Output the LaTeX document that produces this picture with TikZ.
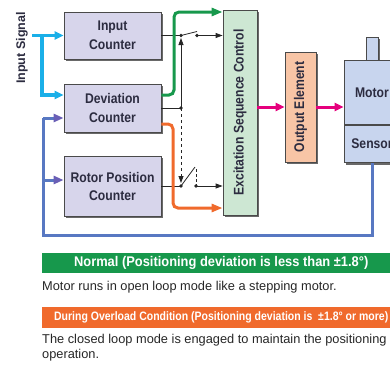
\documentclass[tikz,border=0pt]{standalone}
\usepackage{fontspec}
\usepackage{graphicx}
\setmainfont{Liberation Sans}
\newfontfamily\condfont[FakeStretch=0.87]{Liberation Sans}
\newfontfamily\greenfont[FakeStretch=0.92]{Liberation Sans}
\newfontfamily\orangefont[FakeStretch=0.86]{Liberation Sans}
\usetikzlibrary{positioning,arrows.meta,calc,shadows}
\definecolor{cntfill}{HTML}{D7D5EB}
\definecolor{excfill}{HTML}{CDE7D3}
\definecolor{outfill}{HTML}{F8C5A6}
\definecolor{motfill}{HTML}{C8D5EE}
\definecolor{boxedge}{HTML}{4A4A4A}
\definecolor{sigcyan}{HTML}{1AAFE8}
\definecolor{fbblue}{HTML}{5878C2}
\definecolor{fbhead}{HTML}{6A5FB6}
\definecolor{okgreen}{HTML}{17984C}
\definecolor{ovorange}{HTML}{F06A2C}
\definecolor{drvpink}{HTML}{E5007D}
\definecolor{inkdark}{HTML}{2C2C40}
\tikzset{
  block/.style={draw=boxedge, line width=0.8pt, align=center, inner sep=0pt, text=inkdark,
    font=\condfont\bfseries\fontsize{14}{19}\selectfont,
    drop shadow={shadow xshift=2pt, shadow yshift=-2pt, fill=black!65, opacity=0.9}},
  counter/.style={block, fill=cntfill, minimum width=97pt},
  sigline/.style={line width=3.5pt, draw=sigcyan, -{Triangle[length=9pt, width=8pt]}},
  okline/.style={line width=3pt, draw=okgreen, rounded corners=5pt, -{Triangle[length=11pt, width=8pt]}},
  ovline/.style={line width=3pt, draw=ovorange, rounded corners=5pt, -{Triangle[length=11pt, width=8pt]}},
  fbline/.style={line width=3pt, draw=fbblue},
  fbarrow/.style={fbline, -{Triangle[length=10pt, width=8pt, fill=fbhead, color=fbhead]}},
  drvline/.style={line width=3pt, draw=drvpink, -{Triangle[length=9pt, width=8pt]}},
  wire/.style={line width=0.8pt, draw=black!85},
  wirearrow/.style={wire, -{Triangle[length=7pt, width=5pt]}},
  contact/.style={fill=black!85, circle, inner sep=0pt, minimum size=3.6pt},
  bar/.style={anchor=north west, minimum width=358pt, text=white, inner sep=0pt},
  body/.style={font=\fontsize{12.8}{14.5}\selectfont, text=black!85, inner sep=0pt, align=left},
}

\begin{document}
\begin{tikzpicture}[x=1pt, y=-1pt]
  \useasboundingbox (0,0) rectangle (390,367);

  % counters
  \node[counter, minimum height=47pt] (incnt) at (112.5,35.5) {Input\\Counter};
  \node[counter, minimum height=48pt] (devcnt) at (112.5,108) {Deviation\\Counter};
  \node[counter, minimum height=60pt, font=\condfont\bfseries\fontsize{14}{18}\selectfont] (rotcnt) at (112.5,186) {Rotor Position\\Counter};

  % drive chain
  \node[block, fill=excfill, minimum width=34pt, minimum height=205pt] (exc) at (240,112.5) {\rotatebox{90}{Excitation Sequence Control}};
  \node[block, fill=outfill, minimum width=31pt, minimum height=110pt] (outel) at (300.5,107) {\rotatebox{90}{Output Element}};
  \node[block, fill=motfill, minimum width=12pt, minimum height=23pt] (shaft) at (372,48.5) {};
  \node[block, fill=motfill, minimum width=56pt, minimum height=64pt, below=0pt of shaft] (motor) {Motor};
  \node[block, fill=motfill, minimum width=56pt, minimum height=37pt, below=0pt of motor] (sensor) {Sensor};

  % input signal
  \node[rotate=90, font=\bfseries\fontsize{12.5}{14}\selectfont, text=inkdark] (insig) at (22,48) {Input Signal};
  \coordinate (sigin) at (32,35.5);
  \coordinate (sigsplit) at (42,35.5);
  \coordinate (devsig) at ($(devcnt.west)+(0,-13)$);
  \draw[sigline] (sigin) -- (incnt.west);
  \draw[sigline] (sigsplit) |- (devsig);

  % switches
  \coordinate (piv1) at (181,35.5);
  \coordinate (con1) at (197,35.5);
  \coordinate (jun) at (181,108);
  \coordinate (piv2) at (181,186);
  \coordinate (con2) at (196,186);
  \draw[wire] (incnt.east) -- (piv1);
  \draw[wire] (piv1) -- ($(con1)+(0,-4)$);
  \draw[wirearrow] (con1) -- (con1 -| exc.west);
  \draw[wire] (devcnt.east) -- (jun);
  \draw[wirearrow, shorten >=2.5pt] (jun) -- (piv1);
  \draw[wirearrow, dashed, shorten >=3pt] (jun) -- (piv2);
  \draw[wire] (rotcnt.east) -- (piv2);
  \draw[wire] (piv2) -- ($(con2)+(-1,-19)$);
  \draw[wire, densely dashed] ($(con2)+(0,-17)$) -- (con2);
  \draw[wirearrow] (con2) -- (con2 -| exc.west);
  \foreach \c in {piv1,con1,jun,piv2,con2}
    \node[contact] at (\c) {};

  % open loop / closed loop paths
  \coordinate (gbot) at ($(devcnt.east)+(0,-13)$);
  \coordinate (gturn) at (174,12);
  \draw[okline] (gbot) -| (gturn) -- (gturn -| exc.west);
  \coordinate (obot) at ($(devcnt.east)+(0,16)$);
  \coordinate (oturn) at (173,208);
  \draw[ovline] (obot) -| (oturn) -- (oturn -| exc.west);

  % drive
  \draw[drvline] (exc.east |- outel.west) -- (outel.west);
  \draw[drvline] (outel.east) -- (outel.east -| motor.west);

  % feedback
  \coordinate (fbl) at (43,235);
  \coordinate (devin) at ($(devcnt.west)+(0,10)$);
  \coordinate (rotin) at ($(rotcnt.west)+(0,-6)$);
  \draw[fbline] (sensor.south) -- (sensor.south |- fbl) -- (fbl) -- (fbl |- devin);
  \draw[fbarrow] (fbl |- devin) -- (devin);
  \draw[fbarrow] (fbl |- rotin) -- (rotin);

  % modes
  \node[bar, fill=okgreen, minimum height=20pt, font=\greenfont\bfseries\fontsize{14}{15}\selectfont] (okbar) at (42,253) {Normal (Positioning deviation is less than ±1.8°)};
  \node[body, anchor=west] (oktext) at (42,287.5) {Motor runs in open loop mode like a stepping motor.};
  \node[bar, fill=ovorange, minimum height=21pt, font=\orangefont\bfseries\fontsize{12.2}{14}\selectfont] (ovbar) at (42,307) {During Overload Condition (Positioning deviation is\ \ ±1.8° or more)};
  \node[body, anchor=north west] (ovtext) at (42,334.5) {The closed loop mode is engaged to maintain the positioning\\operation.};
\end{tikzpicture}
\end{document}
